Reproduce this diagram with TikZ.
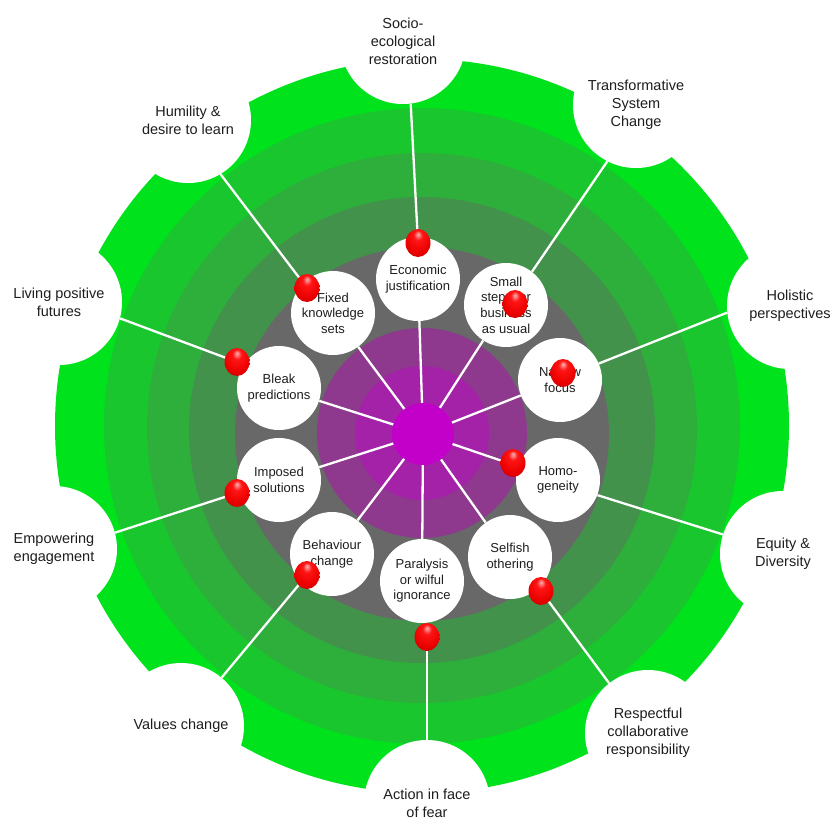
\documentclass[tikz,border=0pt]{standalone}
\usepackage{fontspec}
\setmainfont{Liberation Sans}
\usetikzlibrary{shapes.geometric}
\definecolor{gA}{RGB}{0,226,28}
\definecolor{gB}{RGB}{26,198,46}
\definecolor{gC}{RGB}{46,174,58}
\definecolor{gD}{RGB}{66,146,76}
\definecolor{grayR}{RGB}{104,104,104}
\definecolor{pA}{RGB}{142,56,142}
\definecolor{pB}{RGB}{164,34,168}
\definecolor{pC}{RGB}{194,0,202}
\definecolor{txt}{RGB}{30,30,30}
\pgfdeclareradialshading{redball}{\pgfpoint{0bp}{16bp}}{color(0bp)=(red!30!white); color(9bp)=(red!92!white); color(26bp)=(red!92!black); color(40bp)=(red!72!black); color(60bp)=(red!50!black)}
\begin{document}
\begin{tikzpicture}[x=1pt,y=-1pt,
  outerc/.style={circle, fill=white, minimum size=126pt, inner sep=0pt, align=center, text=txt, font=\fontsize{14.5pt}{18pt}\selectfont},
  innerc/.style={circle, fill=white, minimum size=84pt, inner sep=0pt, align=center, text=txt, font=\fontsize{13pt}{15.6pt}\selectfont},
  redb/.style={ellipse, minimum width=25pt, minimum height=28pt, inner sep=0pt, shading=redball},
  link/.style={draw=white, line width=2.3pt},
  spoke/.style={draw=white, line width=2.3pt}]
\useasboundingbox (0,0) rectangle (833,820);
\fill[white] (0,0) rectangle (833,820);
% concentric rings
\fill[gA] (422,426) circle[radius=367pt];
\fill[gB] (422,426) circle[radius=318pt];
\fill[gC] (422,428) circle[radius=275pt];
\fill[gD] (422,430) circle[radius=233pt];
\fill[grayR] (422,434) circle[radius=187pt];
\fill[pA] (422,433) circle[radius=105pt];
\fill[pB] (422,433) circle[radius=67pt];
\node[circle, fill=pC, minimum size=62pt, inner sep=0pt] (c) at (423,434) {};
% outer circles
\node[outerc] (o1) at (403,41) {Socio-\\ecological\\restoration};
\node[outerc] (o2) at (636,105) {Transformative\\System\\Change};
\node[outerc] (o3) at (790,306) {Holistic\\perspectives};
\node[outerc] (o4) at (783,554) {Equity \&\\Diversity};
\node[outerc] (o5) at (648,733) {Respectful\\collaborative\\responsibility};
\node[outerc] (o6) at (427,803) {Action in face\\of fear};
\node[outerc] (o7) at (181,726) {Values change};
\node[outerc] (o8) at (54,549) {Empowering\\engagement};
\node[outerc] (o9) at (59,302) {Living positive\\futures};
\node[outerc] (o10) at (188,120) {Humility \&\\desire to learn};
% inner circles
\node[innerc] (i1) at (418,279) {Economic\\justification};
\node[innerc] (i2) at (506,305) {Small\\steps for\\business\\as usual};
\node[innerc] (i3) at (560,380) {Narrow\\focus};
\node[innerc] (i4) at (558,480) {Homo-\\geneity};
\node[innerc] (i5) at (510,557) {Selfish\\othering};
\node[innerc] (i6) at (422,581) {Paralysis\\or wilful\\ignorance};
\node[innerc] (i7) at (332,554) {Behaviour\\change};
\node[innerc] (i8) at (279,480) {Imposed\\solutions};
\node[innerc] (i9) at (279,388) {Bleak\\predictions};
\node[innerc] (i10) at (333,313) {Fixed\\knowledge\\sets};
% ball positions
\coordinate (p1) at (418,243);
\coordinate (p2) at (515,304);
\coordinate (p3) at (563,373);
\coordinate (p4) at (513,463);
\coordinate (p5) at (541,591);
\coordinate (p6) at (427,637);
\coordinate (p7) at (307,575);
\coordinate (p8) at (237,493);
\coordinate (p9) at (237,362);
\coordinate (p10) at (307,288);
% spokes
\foreach \k in {1,...,10} \draw[spoke] (c) -- (i\k);
% outer links
\draw[link] (o1.-83) -- (p1);
\draw[link] (o2.-117) -- (i2.52);
\draw[link] (o3.186) -- (i3.23);
\draw[link] (o4.162) -- (i4.-21);
\draw[link] (o5.128) -- (p5);
\draw[link] (o6.90) -- (p6);
\draw[link] (o7.50) -- (p7);
\draw[link] (o8.15) -- (p8);
\draw[link] (o9.-15) -- (p9);
\draw[link] (o10.-59) -- (p10);
% red balls
\foreach \k in {1,...,10} \node[redb] (b\k) at (p\k) {};
\end{tikzpicture}
\end{document}
